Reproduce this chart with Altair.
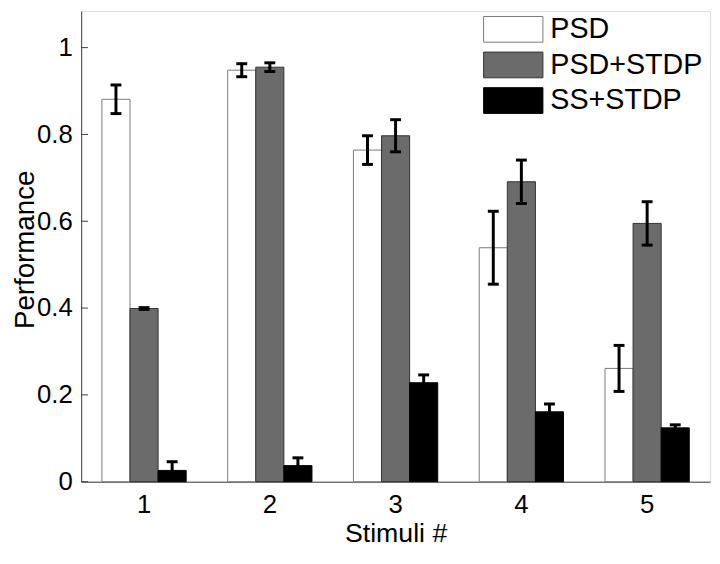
import altair as alt
import pandas as pd

stimuli = ["1", "2", "3", "4", "5"]
series = ["PSD", "PSD+STDP", "SS+STDP"]
psd = [0.881, 0.948, 0.764, 0.539, 0.261]
psd_err = [0.033, 0.015, 0.033, 0.084, 0.053]
psd_stdp = [0.399, 0.955, 0.797, 0.691, 0.595]
psd_stdp_err = [0.002, 0.010, 0.037, 0.050, 0.050]
ss_stdp = [0.026, 0.037, 0.228, 0.161, 0.124]
ss_stdp_err = [0.020, 0.018, 0.018, 0.018, 0.007]
y_ticks = [0, 0.2, 0.4, 0.6, 0.8, 1.0]

rows = []
for name, vals, errs in zip(series, [psd, psd_stdp, ss_stdp], [psd_err, psd_stdp_err, ss_stdp_err]):
    for s, v, e in zip(stimuli, vals, errs):
        rows.append({"stim": s, "series": name, "val": v, "lo": v - e, "hi": v + e})
df = pd.DataFrame(rows)
ticks_df = pd.DataFrame({"t": y_ticks})

FONT = "Liberation Sans"
H = 476
ydom = [0, 1.0843]

xaxis = alt.Axis(title="Stimuli #", labelAngle=0, labelFontSize=26, labelPadding=10,
                 ticks=False, tickSize=0, domainColor="#404040", labelColor="black",
                 titleFontSize=27, titleFontWeight="normal", titleColor="black",
                 titleBaseline="alphabetic", titleY=60)
yaxis = alt.Axis(title="Performance", values=y_ticks, format="~g", labelFontSize=26,
                 labelPadding=9, ticks=False, tickSize=0, grid=False,
                 domainColor="#404040", labelColor="black",
                 titleFontSize=28, titleFontWeight="normal", titleColor="black",
                 titleBaseline="top", titleX=-70, titleY=(H / 2) + 3, titleAngle=270)
yscale = alt.Scale(domain=ydom, nice=False, zero=True)

x_enc = alt.X("stim:N", sort=stimuli,
              scale=alt.Scale(paddingInner=0.33, paddingOuter=0.165), axis=xaxis)
xo_enc = alt.XOffset("series:N", sort=series, scale=alt.Scale(paddingInner=0, paddingOuter=0))

legend = alt.Legend(title=None, orient="none", legendX=406, legendY=4, padding=0,
                    symbolType="M-2.3077,-1L2.3077,-1L2.3077,1L-2.3077,1Z", symbolSize=676,
                    symbolOffset=16.5,
                    symbolStrokeWidth=1, labelFontSize=29, labelOffset=23, rowPadding=5,
                    labelColor="black", symbolOpacity=1)

bars = alt.Chart(df).mark_bar(strokeWidth=1, opacity=1).encode(
    x=x_enc,
    xOffset=xo_enc,
    y=alt.Y("val:Q", scale=yscale, axis=yaxis),
    fill=alt.Fill("series:N", sort=series,
                  scale=alt.Scale(domain=series, range=["#ffffff", "#6b6b6b", "#000000"]),
                  legend=legend),
    stroke=alt.Stroke("series:N", sort=series,
                      scale=alt.Scale(domain=series, range=["#7a7a7a", "#333333", "#000000"]),
                      legend=legend),
)

err_rule = alt.Chart(df).mark_rule(color="black", strokeWidth=3).encode(
    x=x_enc,
    xOffset=xo_enc,
    y=alt.Y("lo:Q", scale=yscale, axis=yaxis),
    y2="hi:Q",
)

cap_lo = alt.Chart(df).mark_tick(color="black", thickness=3, size=11, opacity=1).encode(
    x=x_enc,
    xOffset=xo_enc,
    y=alt.Y("lo:Q", scale=yscale, axis=yaxis),
)
cap_hi = alt.Chart(df).mark_tick(color="black", thickness=3, size=11, opacity=1).encode(
    x=x_enc,
    xOffset=xo_enc,
    y=alt.Y("hi:Q", scale=yscale, axis=yaxis),
)

yticks = alt.Chart(ticks_df).mark_rule(color="#404040", strokeWidth=1).encode(
    y=alt.Y("t:Q", scale=yscale, axis=yaxis),
    x=alt.value(0),
    x2=alt.value(7),
)

chart = alt.layer(bars, err_rule, cap_lo, cap_hi, yticks).properties(
    width=636, height=H,
    autosize=alt.AutoSizeParams(type="none"),
    padding={"left": 74, "top": 0, "right": 2, "bottom": 66},
    background="white",
).configure_view(stroke=None).configure(font=FONT)

chart.save("out.html", embed_options={"renderer": "svg", "actions": False})
